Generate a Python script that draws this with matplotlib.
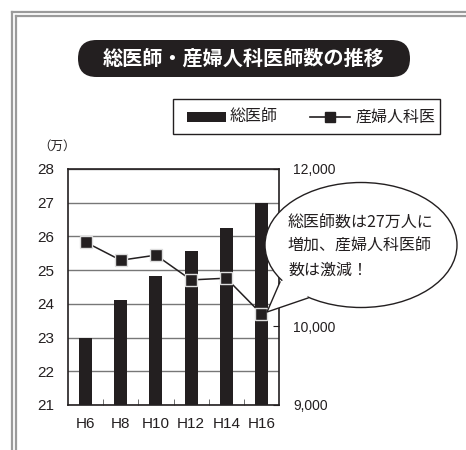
import numpy as np
import matplotlib
matplotlib.use('agg')
import matplotlib.pyplot as plt
import matplotlib.transforms as mtransforms
from matplotlib.patches import Ellipse, Polygon, FancyBboxPatch, Rectangle
from matplotlib.lines import Line2D

# data
years = ['H6', 'H8', 'H10', 'H12', 'H14', 'H16']
total_doctors = [23.0, 24.1, 24.83, 25.58, 26.26, 27.0]        # 万人 (left axis)
obgyn_doctors = [11070, 10840, 10905, 10590, 10612, 10158]     # 人 (right axis)
left_ticks = [21, 22, 23, 24, 25, 26, 27, 28]
right_ticks = [9000, 10000, 11000, 12000]
right_labels = ['9,000', '10,000', '', '12,000']  # 11,000 sits behind the bubble

DARK = '#231f20'
JP = ['Noto Sans CJK JP', 'DejaVu Sans']
NUM = ['Liberation Sans', 'DejaVu Sans']

W, H = 466, 450
fig = plt.figure(figsize=(W / 100, H / 100), dpi=100)
# pixel coordinates, y measured from the top
px = mtransforms.Affine2D().scale(0.01, -0.01).translate(0, H / 100) + fig.dpi_scale_trans

# outer double frame
for off in (12, 16):
	fig.add_artist(Line2D([off, W], [off, off], transform=px, color='#9a9a9a', lw=1.6))
	fig.add_artist(Line2D([off, off], [off, H], transform=px, color='#9a9a9a', lw=1.6))

# title pill
fig.add_artist(FancyBboxPatch((78, 40), 332, 37, boxstyle='round,pad=0,rounding_size=18.5',
	transform=px, facecolor=DARK, edgecolor='none'))
fig.text(244 / W, 1 - 58.5 / H, '総医師・産婦人科医師数の推移', color='white', fontsize=14.5,
	fontweight='bold', family=JP, ha='center', va='center')

# legend box
fig.add_artist(Rectangle((173, 99), 267, 35, transform=px, facecolor='white',
	edgecolor=DARK, lw=1))
fig.add_artist(Rectangle((187, 112), 39, 10, transform=px, facecolor=DARK, edgecolor='none'))
fig.text(230 / W, 1 - 117 / H, '総医師', fontsize=11.5, family=JP, va='center', color=DARK)
fig.add_artist(Line2D([310, 350], [117, 117], transform=px, color=DARK, lw=1.2))
fig.add_artist(Line2D([330], [117], transform=px, color=DARK, marker='s', ms=7, ls='none'))
fig.text(355 / W, 1 - 117 / H, '産婦人科医', fontsize=11.5, family=JP, va='center', color=DARK)

fig.text(38 / W, 1 - 146 / H, '（万）', fontsize=9, family=JP, va='center', ha='left', color=DARK)

# main axes
ax = fig.add_axes([68 / W, 1 - 405 / H, (279 - 68) / W, (405 - 169) / H])
x = np.arange(len(years))
ax.bar(x, total_doctors, width=0.37, color=DARK, zorder=2)
ax.set_xlim(-0.5, len(years) - 0.5)
ax.set_ylim(21, 28)
ax.set_yticks(left_ticks)
ax.set_yticklabels([str(t) for t in left_ticks], family=NUM, fontsize=11)
ax.yaxis.grid(True, color='#777777', lw=1, zorder=0)
ax.set_axisbelow(True)
ax.set_xticks(x)
ax.set_xticklabels(years, family=NUM, fontsize=11)
ax.set_xticks(np.arange(0.5, len(years) - 1, 1), minor=True)
ax.tick_params(axis='x', which='major', length=0, pad=9, colors=DARK)
ax.tick_params(axis='x', which='minor', length=4, direction='in', color='#555555')
ax.tick_params(axis='y', length=0, pad=10, colors=DARK)
for s in ax.spines.values():
	s.set_color(DARK)
	s.set_linewidth(1.2)

ax2 = ax.twinx()
ax2.plot(x, obgyn_doctors, color=DARK, lw=1.1, marker='s', ms=8.5, mfc=DARK,
	mec='#dddddd', mew=1, zorder=3)
ax2.set_ylim(9000, 12000)
ax2.set_yticks(right_ticks)
ax2.set_yticklabels(right_labels, family=NUM, fontsize=10)
ax2.tick_params(axis='y', length=4, direction='in', pad=10, colors=DARK)
for s in ax2.spines.values():
	s.set_visible(False)

# speech bubble
fig.add_artist(Ellipse((361, 245), 192, 125, transform=px, facecolor='white',
	edgecolor=DARK, lw=1, zorder=5))
tip, b1, b2 = (267, 312), (280, 282), (308, 298)
fig.add_artist(Polygon([tip, b1, (300, 270), b2], closed=True, transform=px, facecolor='white',
	edgecolor='none', zorder=6))
fig.add_artist(Line2D([b1[0], tip[0], b2[0]], [b1[1], tip[1], b2[1]], transform=px,
	color=DARK, lw=1, zorder=7))
bubble_lines = ['総医師数は27万人に', '増加、産婦人科医師', '数は激減！']
for i, line in enumerate(bubble_lines):
	fig.text(288 / W, 1 - (223 + 23.5 * i) / H, line, fontsize=11.5, family=JP,
		va='center', ha='left', color=DARK, zorder=8)

fig.savefig('out.png', dpi=100)
